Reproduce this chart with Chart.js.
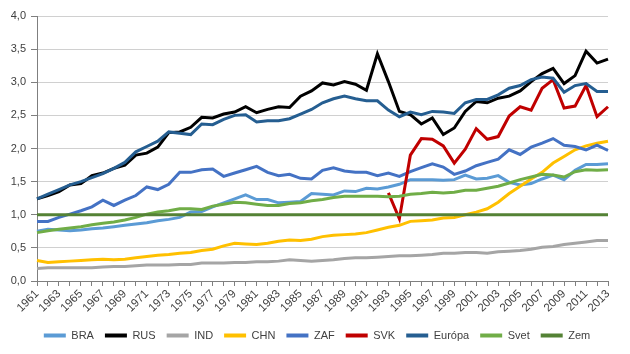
<!DOCTYPE html>
<html>
<head>
<meta charset="utf-8">
<script src="https://cdn.jsdelivr.net/npm/chart.js@4.4.1/dist/chart.umd.min.js"></script>
<style>
  html, body { margin: 0; padding: 0; background: #fff; }
  #wrap { width: 630px; height: 354px; }
</style>
</head>
<body>
<div id="wrap"><canvas id="chart" width="630" height="354"></canvas></div>
<script>
const years = [];
for (let y = 1961; y <= 2013; y++) years.push(String(y));

const bra = [0.75,0.78,0.77,0.76,0.77,0.79,0.80,0.82,0.84,0.86,
  0.88,0.91,0.93,0.96,1.04,1.05,1.12,1.18,1.24,1.30,
  1.23,1.23,1.18,1.19,1.20,1.32,1.31,1.30,1.36,1.35,
  1.40,1.39,1.42,1.46,1.53,1.53,1.53,1.52,1.53,1.60,
  1.54,1.55,1.59,1.49,1.45,1.47,1.54,1.60,1.53,1.67,
  1.76,1.76,1.77];

const rus = [1.24,1.29,1.35,1.45,1.47,1.59,1.63,1.70,1.75,1.90,
  1.93,2.02,2.24,2.25,2.32,2.47,2.46,2.52,2.55,2.63,
  2.54,2.59,2.63,2.62,2.79,2.87,2.99,2.96,3.01,2.97,
  2.88,3.43,3.01,2.56,2.51,2.37,2.46,2.21,2.31,2.56,
  2.71,2.69,2.76,2.79,2.87,3.01,3.13,3.21,2.98,3.10,
  3.47,3.29,3.35];

const ind = [0.19,0.20,0.20,0.20,0.20,0.20,0.21,0.22,0.22,0.23,
  0.24,0.24,0.24,0.25,0.25,0.27,0.27,0.27,0.28,0.28,
  0.29,0.29,0.30,0.32,0.31,0.30,0.31,0.32,0.34,0.35,
  0.35,0.36,0.37,0.38,0.38,0.39,0.40,0.42,0.42,0.43,
  0.43,0.42,0.44,0.45,0.46,0.48,0.51,0.52,0.55,0.57,
  0.59,0.61,0.61];

const chn = [0.31,0.28,0.29,0.30,0.31,0.32,0.33,0.32,0.33,0.35,
  0.37,0.39,0.40,0.42,0.43,0.46,0.48,0.53,0.57,0.56,
  0.55,0.57,0.60,0.62,0.61,0.63,0.67,0.69,0.70,0.71,
  0.73,0.77,0.81,0.84,0.90,0.91,0.92,0.95,0.96,1.00,
  1.04,1.09,1.19,1.32,1.43,1.54,1.64,1.78,1.88,1.98,
  2.04,2.08,2.11];

const zaf = [0.90,0.90,0.96,1.01,1.06,1.12,1.22,1.14,1.22,1.29,
  1.42,1.38,1.46,1.64,1.64,1.68,1.69,1.58,1.63,1.68,
  1.73,1.64,1.59,1.61,1.55,1.54,1.67,1.71,1.66,1.64,
  1.64,1.59,1.63,1.58,1.65,1.71,1.77,1.72,1.61,1.66,
  1.74,1.79,1.84,1.98,1.91,2.02,2.08,2.15,2.05,2.03,
  1.98,2.05,1.97];

const svk = [null,null,null,null,null,null,null,null,null,null,
  null,null,null,null,null,null,null,null,null,null,
  null,null,null,null,null,null,null,null,null,null,
  null,null,1.33,0.94,1.90,2.15,2.14,2.04,1.78,1.99,
  2.30,2.14,2.18,2.49,2.63,2.58,2.91,3.04,2.61,2.64,
  2.95,2.48,2.63];

const europa = [1.24,1.31,1.38,1.45,1.50,1.56,1.62,1.70,1.79,1.95,
  2.03,2.11,2.25,2.23,2.21,2.37,2.36,2.44,2.50,2.51,
  2.40,2.42,2.42,2.45,2.52,2.59,2.69,2.75,2.79,2.75,
  2.72,2.72,2.58,2.48,2.55,2.51,2.56,2.55,2.53,2.69,
  2.74,2.74,2.81,2.91,2.95,3.04,3.08,3.06,2.85,2.95,
  2.98,2.86,2.86];

const svet = [0.73,0.76,0.78,0.80,0.82,0.85,0.87,0.89,0.92,0.96,
  1.01,1.04,1.06,1.09,1.09,1.08,1.13,1.16,1.19,1.18,
  1.16,1.14,1.14,1.17,1.18,1.21,1.23,1.26,1.28,1.28,
  1.28,1.28,1.27,1.28,1.31,1.32,1.34,1.33,1.34,1.37,
  1.37,1.40,1.43,1.48,1.53,1.57,1.61,1.60,1.57,1.65,
  1.68,1.67,1.68];

const zem = years.map(() => 1.0);

const seriesNames = ['BRA', 'RUS', 'IND', 'CHN', 'ZAF', 'SVK', 'Európa', 'Svet', 'Zem'];
const seriesData = [bra, rus, ind, chn, zaf, svk, europa, svet, zem];
const seriesColors = ['#5B9BD5', '#000000', '#A5A5A5', '#FFC000', '#4472C4', '#C00000', '#255E91', '#70AD47', '#548235'];

const FONT = '"Liberation Sans", Arial, sans-serif';
const TEXT = '#404040';
const AXIS = '#7f7f7f';

const datasets = seriesNames.map((name, i) => ({
  label: name,
  data: seriesData[i],
  borderColor: seriesColors[i],
  backgroundColor: seriesColors[i],
  borderWidth: 3,
  pointRadius: 0,
  tension: 0,
  spanGaps: false,
  // later series on top, like the original
  order: seriesNames.length - i,
}));

// the legend in the original sits a bit right of the canvas centre
const legendShift = {
  id: 'legendShift',
  afterLayout(chart) {
    if (chart.legend) {
      chart.legend.left += 13;
      chart.legend.right += 13;
    }
  },
};

const config = {
  type: 'line',
  data: { labels: years, datasets: datasets },
  options: {
    responsive: false,
    animation: false,
    layout: { padding: { top: 16, right: 22, bottom: 3, left: 0 } },
    scales: {
      x: {
        offset: false,
        grid: {
          drawOnChartArea: false,
          drawTicks: true,
          tickLength: 5,
          tickColor: AXIS,
        },
        border: { color: AXIS, width: 1 },
        ticks: {
          autoSkip: false,
          maxRotation: 45,
          minRotation: 45,
          padding: 1,
          color: TEXT,
          font: { family: FONT, size: 11.5 },
          callback: function (val, idx) {
            return idx % 2 === 0 ? years[idx] : '';
          },
        },
        afterFit: function (scale) { scale.height = 38; },
      },
      y: {
        min: 0,
        max: 4,
        grid: {
          color: '#d0d0d0',
          lineWidth: 1,
          tickLength: 6,
          tickColor: AXIS,
        },
        border: { color: AXIS, width: 1 },
        ticks: {
          stepSize: 0.5,
          padding: 5,
          color: TEXT,
          font: { family: FONT, size: 11 },
          callback: function (v) { return v.toFixed(1).replace('.', ','); },
        },
        afterFit: function (scale) { scale.width = 37; },
      },
    },
    plugins: {
      tooltip: { enabled: false },
      legend: {
        position: 'bottom',
        labels: {
          boxWidth: 22,
          boxHeight: 4,
          padding: 11,
          color: TEXT,
          font: { family: FONT, size: 11 },
          sort: (a, b) => a.datasetIndex - b.datasetIndex,
          generateLabels: function (chart) {
            return chart.data.datasets.map((ds, i) => ({
              text: ds.label,
              fillStyle: ds.borderColor,
              strokeStyle: ds.borderColor,
              lineWidth: 0,
              hidden: false,
              datasetIndex: i,
              fontColor: TEXT,
            }));
          },
        },
      },
    },
  },
  plugins: [legendShift],
};

const chart = new Chart(document.getElementById('chart'), config);
</script>
</body>
</html>
